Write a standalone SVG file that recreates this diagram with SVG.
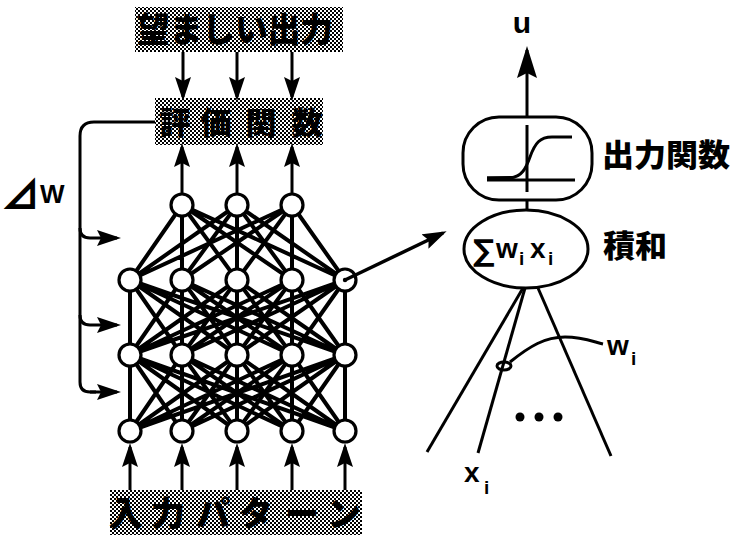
<svg xmlns="http://www.w3.org/2000/svg" width="733" height="535" viewBox="0 0 733 535">
<defs>
<pattern id="ht" width="4" height="4" patternUnits="userSpaceOnUse">
<rect width="4" height="4" fill="#fff"/>
<rect width="2" height="2" fill="#000"/>
<rect x="2" y="2" width="2" height="2" fill="#000"/>
</pattern>
<marker id="ah" viewBox="0 0 24 16" refX="20" refY="8" markerWidth="24" markerHeight="16" markerUnits="userSpaceOnUse" orient="auto">
<path d="M0,0 L24,8 L0,16 L4,8 z" fill="#000"/>
</marker>
<marker id="ahL" viewBox="0 0 32 20" refX="28" refY="10" markerWidth="32" markerHeight="20" markerUnits="userSpaceOnUse" orient="auto">
<path d="M0,0 L32,10 L0,20 L5,10 z" fill="#000"/>
</marker>
</defs>
<style>
.box{fill:url(#ht);stroke:none}
.jp{font-family:"Noto Sans CJK JP","Noto Sans CJK SC",sans-serif;font-weight:900;fill:#000}
.lt{font-family:"Liberation Sans","DejaVu Sans",Arial,sans-serif;font-weight:bold;fill:#000}
.ln{fill:none;stroke:#000;stroke-width:3}
.arr{fill:none;stroke:#000;stroke-width:3;marker-end:url(#ah)}
.net{fill:none;stroke:#000;stroke-width:4}
.nd{fill:#fff;stroke:#000;stroke-width:3.2}
</style>

<g id="desired-output">
<rect class="box" x="135" y="7" width="208" height="45"/>
<text class="jp" x="137" y="42" font-size="34" textLength="196" lengthAdjust="spacingAndGlyphs">望ましい出力</text>
</g>

<g id="evaluation-function">
<rect class="box" x="155" y="98" width="168" height="47"/>
<text class="jp" x="175 216 261 307" y="134" font-size="31" text-anchor="middle">評価関数</text>
</g>

<g id="input-pattern">
<rect class="box" x="110" y="490" width="252" height="45"/>
<text class="jp" x="126 168 213 256 302 344" y="526" font-size="34" text-anchor="middle">入力パターン</text>
</g>

<g id="delta-w-label">
<text class="jp" x="1" y="209" font-size="39" font-weight="bold">⊿</text>
<text class="lt" x="40" y="203" font-size="26">W</text>
</g>

<g id="connectors">
<line class="arr" x1="183" y1="52" x2="183" y2="97"/>
<line class="arr" x1="237" y1="52" x2="237" y2="97"/>
<line class="arr" x1="292" y1="52" x2="292" y2="97"/>
<line class="arr" x1="182" y1="194" x2="182" y2="147"/>
<line class="arr" x1="237" y1="194" x2="237" y2="147"/>
<line class="arr" x1="292" y1="194" x2="292" y2="147"/>
<line class="arr" x1="130" y1="490" x2="130" y2="447"/>
<line class="arr" x1="182" y1="490" x2="182" y2="447"/>
<line class="arr" x1="237" y1="490" x2="237" y2="447"/>
<line class="arr" x1="292" y1="490" x2="292" y2="447"/>
<line class="arr" x1="345" y1="490" x2="345" y2="447"/>
<path class="ln" d="M155,122 L94,122 Q80,122 80,136 L80,382 Q80,392 90,392 L96,392"/>
<path class="arr" d="M80,228 Q80,238 90,238 L117,238"/>
<path class="arr" d="M80,315 Q80,325 90,325 L117,325"/>
<path class="arr" d="M90,392 L117,392"/>
<path class="net" d="M182,205L130,280M182,205L182,280M182,205L237,280M182,205L292,280M182,205L345,280M237,205L130,280M237,205L182,280M237,205L237,280M237,205L292,280M237,205L345,280M292,205L130,280M292,205L182,280M292,205L237,280M292,205L292,280M292,205L345,280"/>
<path class="net" d="M130,280L130,355M130,280L182,355M130,280L237,355M130,280L292,355M130,280L345,355M182,280L130,355M182,280L182,355M182,280L237,355M182,280L292,355M182,280L345,355M237,280L130,355M237,280L182,355M237,280L237,355M237,280L292,355M237,280L345,355M292,280L130,355M292,280L182,355M292,280L237,355M292,280L292,355M292,280L345,355M345,280L130,355M345,280L182,355M345,280L237,355M345,280L292,355M345,280L345,355"/>
<path class="net" d="M130,355L130,431M130,355L182,431M130,355L237,431M130,355L292,431M130,355L345,431M182,355L130,431M182,355L182,431M182,355L237,431M182,355L292,431M182,355L345,431M237,355L130,431M237,355L182,431M237,355L237,431M237,355L292,431M237,355L345,431M292,355L130,431M292,355L182,431M292,355L237,431M292,355L292,431M292,355L345,431M345,355L130,431M345,355L182,431M345,355L237,431M345,355L292,431M345,355L345,431"/>
</g>

<g id="nodes">
<circle class="nd" cx="182" cy="205" r="11"/>
<circle class="nd" cx="237" cy="205" r="11"/>
<circle class="nd" cx="292" cy="205" r="11"/>
<circle class="nd" cx="130" cy="280" r="11"/>
<circle class="nd" cx="182" cy="280" r="11"/>
<circle class="nd" cx="237" cy="280" r="11"/>
<circle class="nd" cx="292" cy="280" r="11"/>
<circle class="nd" cx="345" cy="280" r="11"/>
<circle class="nd" cx="130" cy="355" r="11"/>
<circle class="nd" cx="182" cy="355" r="11"/>
<circle class="nd" cx="237" cy="355" r="11"/>
<circle class="nd" cx="292" cy="355" r="11"/>
<circle class="nd" cx="345" cy="355" r="11"/>
<circle class="nd" cx="130" cy="431" r="11"/>
<circle class="nd" cx="182" cy="431" r="11"/>
<circle class="nd" cx="237" cy="431" r="11"/>
<circle class="nd" cx="292" cy="431" r="11"/>
<circle class="nd" cx="345" cy="431" r="11"/>
</g>

<g id="zoom-arrow">
<circle cx="345" cy="280" r="2.2" fill="#000"/>
<line class="arr" x1="345" y1="280" x2="443" y2="233" style="stroke-width:3.5"/>
</g>

<g id="neuron">
<line class="ln" x1="527" y1="117" x2="527" y2="50" style="marker-end:url(#ahL)"/>
<text class="lt" x="522" y="33" font-size="30" text-anchor="middle">u</text>
<rect class="ln" x="463" y="117" width="129" height="83" rx="36" ry="36"/>
<line class="ln" x1="527" y1="125" x2="527" y2="192" stroke-width="2.5"/>
<line class="ln" x1="487" y1="180" x2="575" y2="180" stroke-width="2.5"/>
<path class="ln" d="M487,178 L510,178 C522,177 526,168 530,157 C535,143 540,137 552,137 L572,137" stroke-width="3"/>
<path class="ln" d="M487,178 L512,177.5" stroke-width="5"/>
<text class="jp" x="602" y="166" font-size="31" textLength="128" lengthAdjust="spacingAndGlyphs">出力関数</text>
<line class="ln" x1="527" y1="200" x2="527" y2="210"/>
<ellipse class="ln" cx="526" cy="249" rx="62" ry="39"/>
<text x="473" y="261" font-size="30" font-family="DejaVu Sans, sans-serif" font-weight="bold">∑</text>
<text class="lt" x="496" y="258" font-size="28">w</text>
<text class="lt" x="519" y="265" font-size="19">i</text>
<text class="lt" x="530" y="258" font-size="28">x</text>
<text class="lt" x="548" y="265" font-size="19">i</text>
<text class="jp" x="603" y="257" font-size="31" textLength="64" lengthAdjust="spacingAndGlyphs">積和</text>
<line class="ln" x1="523" y1="288" x2="427" y2="452" stroke-width="4"/>
<line class="ln" x1="525" y1="288" x2="478" y2="453" stroke-width="3.2"/>
<line class="ln" x1="538" y1="288" x2="611" y2="456" stroke-width="3.2"/>
<ellipse class="ln" cx="504" cy="366" rx="7" ry="4" stroke-width="2.5"/>
<path class="ln" d="M510,362 C530,346 545,337 565,337 C583,337 594,342 603,344" stroke-width="2.5"/>
<text class="lt" x="607" y="355" font-size="28">w</text>
<text class="lt" x="631" y="365" font-size="19">i</text>
<circle cx="520" cy="417" r="4.5" fill="#000"/>
<circle cx="539" cy="417" r="4.5" fill="#000"/>
<circle cx="558" cy="417" r="4.5" fill="#000"/>
<text class="lt" x="464" y="482" font-size="28">x</text>
<text class="lt" x="484" y="494" font-size="19">i</text>
</g>
</svg>
